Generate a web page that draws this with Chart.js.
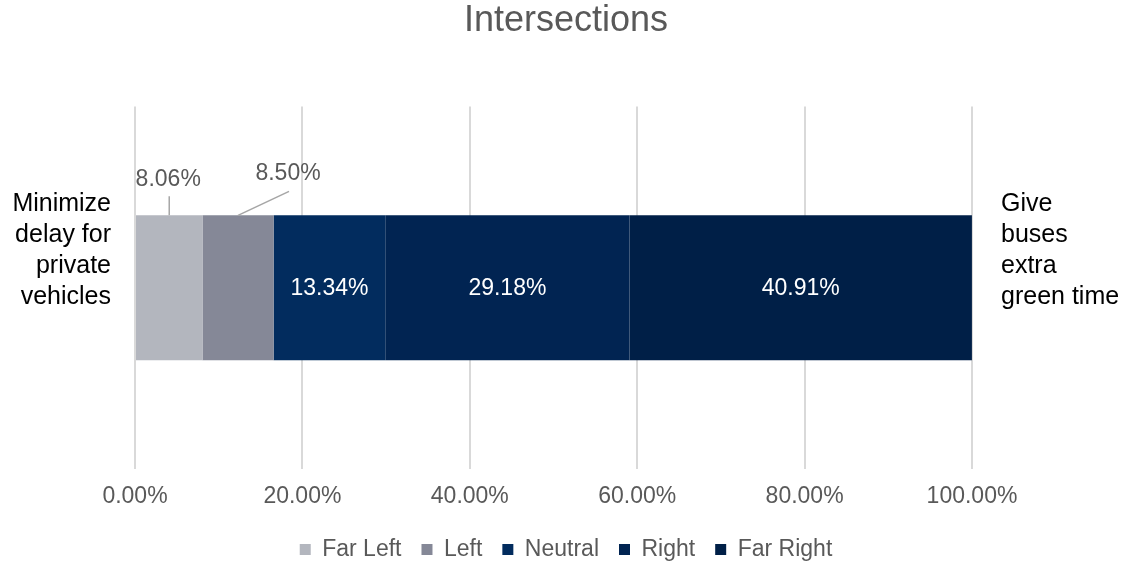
<!DOCTYPE html>
<html>
<head>
<meta charset="utf-8">
<script src="https://cdn.jsdelivr.net/npm/chart.js@4/dist/chart.umd.min.js"></script>
<style>
  html, body { margin: 0; padding: 0; background: #fff; }
  #wrap { width: 1132px; height: 565px; }
</style>
</head>
<body>
<div id="wrap"><canvas id="chart" width="1132" height="565"></canvas></div>
<script>
const chartTitle = 'Intersections';
const leftLabel = ['Minimize', 'delay for', 'private', 'vehicles'];
const rightLabel = ['Give', 'buses', 'extra', 'green time'];
const seriesNames = ['Far Left', 'Left', 'Neutral', 'Right', 'Far Right'];
const seriesValues = [8.06, 8.50, 13.34, 29.18, 40.91];
const seriesColors = ['#b3b6be', '#858897', '#022c5e', '#012452', '#001f47'];
const tickValues = [0, 20, 40, 60, 80, 100];

Chart.defaults.font.family = "'Liberation Sans', Arial, sans-serif";
Chart.defaults.color = '#595959';

// labels on the segments; the two small ones sit above the bar with a leader line
const segmentLabels = {
  id: 'segmentLabels',
  afterDatasetsDraw(chart) {
    const ctx = chart.ctx;
    ctx.save();
    ctx.font = "23px 'Liberation Sans', Arial, sans-serif";
    ctx.textAlign = 'center';
    ctx.textBaseline = 'middle';
    chart.data.datasets.forEach((ds, i) => {
      const bar = chart.getDatasetMeta(i).data[0];
      if (!bar) return;
      const p = bar.getProps(['x', 'base', 'y', 'height'], true);
      const cx = (p.x + p.base) / 2;
      const top = p.y - p.height / 2;
      const text = ds.data[0].toFixed(2) + '%';
      if (i === 0 || i === 1) {
        const dx = i === 0 ? 0 : 51;
        const lineLen = i === 0 ? 19 : 24;
        const textUp = i === 0 ? 36 : 42;
        ctx.strokeStyle = '#a6a6a6';
        ctx.lineWidth = 1.5;
        ctx.beginPath();
        ctx.moveTo(cx, top);
        ctx.lineTo(cx + dx, top - lineLen);
        ctx.stroke();
        ctx.fillStyle = '#595959';
        ctx.fillText(text, cx + dx - 1, top - textUp);
      } else {
        ctx.fillStyle = '#ffffff';
        ctx.fillText(text, cx, p.y + 1);
      }
    });
    ctx.restore();
  }
};

new Chart(document.getElementById('chart'), {
  type: 'bar',
  data: {
    labels: [leftLabel],
    datasets: seriesNames.map((name, i) => ({
      label: name,
      data: [seriesValues[i]],
      backgroundColor: seriesColors[i],
      borderWidth: 0,
      barPercentage: 0.5,
      categoryPercentage: 0.8,
      yAxisID: 'y'
    }))
  },
  options: {
    indexAxis: 'y',
    responsive: false,
    animation: false,
    layout: { padding: { left: 0, right: 0, top: 0, bottom: -6 } },
    scales: {
      x: {
        stacked: true,
        min: 0,
        max: 100,
        afterBuildTicks: (axis) => { axis.ticks = tickValues.map(v => ({ value: v })); },
        afterFit: (axis) => { axis.height = 49; },
        ticks: {
          padding: 14,
          color: '#595959',
          font: { size: 23 },
          callback: (v) => Number(v).toFixed(2) + '%'
        },
        grid: { color: '#d9d9d9', lineWidth: 2, drawTicks: false },
        border: { display: false }
      },
      y: {
        type: 'category',
        position: 'left',
        stacked: true,
        offset: true,
        afterFit: (axis) => { axis.width = 135; },
        ticks: {
          padding: 24,
          labelOffset: -37,
          color: '#000000',
          font: { size: 25, lineHeight: 1.24 }
        },
        grid: { display: false, drawTicks: false },
        border: { display: false }
      },
      y2: {
        type: 'category',
        position: 'right',
        labels: [rightLabel],
        offset: true,
        afterFit: (axis) => { axis.width = 160; },
        ticks: {
          padding: 29,
          labelOffset: -37,
          color: '#000000',
          font: { size: 25, lineHeight: 1.24 }
        },
        grid: { display: false, drawTicks: false },
        border: { display: false }
      }
    },
    plugins: {
      title: {
        display: true,
        text: chartTitle,
        color: '#595959',
        font: { size: 36, weight: 'normal', lineHeight: 1.1 },
        padding: { top: 1, bottom: 66 }
      },
      legend: {
        position: 'bottom',
        labels: {
          boxWidth: 11,
          boxHeight: 11,
          padding: 20,
          color: '#595959',
          font: { size: 23 }
        }
      },
      tooltip: { enabled: false }
    }
  },
  plugins: [segmentLabels]
});
</script>
</body>
</html>
